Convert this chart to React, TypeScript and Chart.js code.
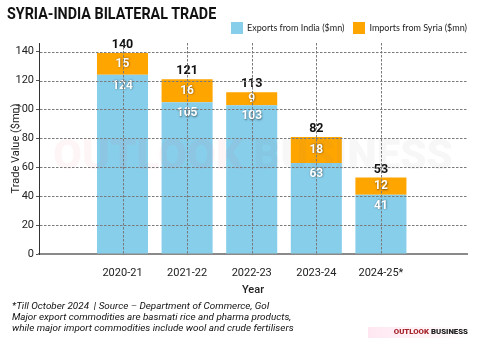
import React, { useEffect, useRef } from "react";
import { Chart, registerables } from "chart.js";

Chart.register(...registerables);

const years = ["2020-21", "2021-22", "2022-23", "2023-24", "2024-25*"];
const exportsIndia = [124, 105, 103, 63, 41];
const importsSyria = [15, 16, 9, 18, 12];
const totalLabels = ["140", "121", "113", "82", "53"];
const yTicks = [0, 20, 40, 60, 80, 100, 120, 140];

const BLUE = "#87CEEB";
const ORANGE = "#FFA500";

const gridPlugin = {
  id: "overGrid",
  afterDraw(chart: any) {
    const ctx = chart.ctx;
    const area = chart.chartArea;
    const xs = chart.scales.x;
    const ys = chart.scales.y;
    ctx.save();
    ctx.globalAlpha = 1;
    ctx.fillStyle = "#7a7a7a";
    for (const v of yTicks) {
      if (v === 0) continue;
      const py = Math.round(ys.getPixelForValue(v));
      for (let x = area.left + 1; x < area.right; x += 4) {
        ctx.fillRect(x, py, 2.5, 1);
      }
    }
    for (let i = 0; i < years.length; i++) {
      const px = Math.round(xs.getPixelForValue(i));
      for (let y = area.top; y < area.bottom - 1; y += 4) {
        ctx.fillRect(px, y, 1, 2.5);
      }
    }
    ctx.restore();
  },
};

const labelsPlugin = {
  id: "valueLabels",
  afterDatasetsDraw(chart: any) {
    const ctx = chart.ctx;
    const m0 = chart.getDatasetMeta(0);
    const m1 = chart.getDatasetMeta(1);
    const area = chart.chartArea;
    ctx.save();
    // faint watermark
    ctx.font = "900 42px Roboto";
    ctx.textBaseline = "middle";
    const cx = (area.left + area.right) / 2;
    const w1 = ctx.measureText("OUTLOOK ").width;
    const w2 = ctx.measureText("BUSINESS").width;
    const sx = cx - (w1 + w2) / 2;
    ctx.textAlign = "left";
    ctx.fillStyle = "rgba(230,90,100,0.06)";
    ctx.fillText("OUTLOOK ", sx, 158);
    ctx.fillStyle = "rgba(120,120,120,0.06)";
    ctx.fillText("BUSINESS", sx + w1, 158);

    ctx.textAlign = "center";
    ctx.textBaseline = "middle";
    for (let i = 0; i < years.length; i++) {
      const b0 = m0.data[i];
      const b1 = m1.data[i];
      ctx.font = "bold 12px Roboto";
      ctx.shadowColor = "rgba(0,0,0,0.55)";
      ctx.shadowBlur = 2;
      ctx.shadowOffsetX = 0.5;
      ctx.shadowOffsetY = 0.5;
      ctx.fillStyle = "#ffffff";
      ctx.fillText(String(exportsIndia[i]), b0.x, b0.y + 11);
      ctx.fillText(String(importsSyria[i]), b1.x, (b1.y + b1.base) / 2);
      ctx.shadowColor = "transparent";
      ctx.shadowBlur = 0;
      ctx.shadowOffsetX = 0;
      ctx.shadowOffsetY = 0;
      ctx.fillStyle = "#111111";
      ctx.font = "bold 12.5px Roboto";
      ctx.fillText(totalLabels[i], b1.x, b1.y - 8);
    }
    ctx.restore();
  },
};

export default function App() {
  const ref = useRef<HTMLCanvasElement>(null);
  useEffect(() => {
    if (!ref.current) return;
    const chart = new Chart(ref.current, {
      type: "bar",
      data: {
        datasets: [
          {
            label: "Exports from India ($mn)",
            data: exportsIndia.map((v, i) => ({ x: i, y: v })),
            backgroundColor: BLUE,
            borderWidth: 0,
            barPercentage: 0.79,
            categoryPercentage: 1,
          },
          {
            label: "Imports from Syria ($mn)",
            data: importsSyria.map((v, i) => ({ x: i, y: v })),
            backgroundColor: ORANGE,
            borderWidth: 0,
            barPercentage: 0.79,
            categoryPercentage: 1,
          },
        ],
      },
      options: {
        responsive: false,
        animation: false,
        layout: { padding: { left: 6, right: 13, top: 43, bottom: 51 } },
        plugins: {
          legend: { display: false },
          tooltip: { enabled: false },
        },
        scales: {
          x: {
            type: "linear",
            stacked: true,
            min: -0.63,
            max: 4.67,
            afterBuildTicks: (s: any) => {
              s.ticks = years.map((_, i) => ({ value: i }));
            },
            afterFit: (s: any) => {
              s.height = 47;
            },
            ticks: {
              callback: (v: any) => years[v] ?? "",
              font: { family: "Roboto", size: 11 },
              color: "#222",
              padding: 5,
              maxRotation: 0,
              autoSkip: false,
            },
            grid: {
              display: false,
            },
            border: { display: true, color: "#8a8a8a", width: 2 },
            title: {
              display: true,
              text: "Year",
              font: { family: "Roboto", size: 11, weight: "500" },
              color: "#222",
              padding: { top: 4, bottom: 4 },
            },
          },
          y: {
            stacked: true,
            min: 0,
            max: 146,
            afterBuildTicks: (s: any) => {
              s.ticks = yTicks.map((v) => ({ value: v }));
            },
            afterFit: (s: any) => {
              s.width = 33;
            },
            ticks: {
              font: { family: "Roboto", size: 11 },
              color: "#222",
              padding: 2,
            },
            grid: {
              drawOnChartArea: false,
              color: "#555",
              tickLength: 3,
            },
            border: { display: true, color: "#333", width: 1 },
            title: {
              display: true,
              text: "Trade Value ($mn)",
              font: { family: "Roboto", size: 11 },
              color: "#222",
              padding: { top: 4, bottom: 4 },
            },
          },
        },
      },
      plugins: [labelsPlugin, gridPlugin],
    } as any);
    return () => chart.destroy();
  }, []);

  const legendItem = (color: string, text: string, ml: number) => (
    <div style={{ display: "flex", alignItems: "center", marginLeft: ml }}>
      <span style={{ display: "inline-block", width: 12, height: 12, background: color, marginRight: 4 }} />
      <span>{text}</span>
    </div>
  );

  return (
    <div style={{ position: "absolute", left: 0, top: 0, width: 480, height: 352, background: "#fff", overflow: "hidden" }}>
      <canvas ref={ref} width={480} height={352} style={{ position: "absolute", left: 0, top: 0 }} />
      <div
        style={{
          position: "absolute",
          left: 7,
          top: 4,
          fontFamily: "Roboto",
          fontWeight: 700,
          fontSize: 16,
          color: "#111",
          whiteSpace: "nowrap",
          transform: "scaleX(0.895)",
          transformOrigin: "left center",
          lineHeight: "20px",
        }}
      >
        SYRIA-INDIA BILATERAL TRADE
      </div>
      <div
        style={{
          position: "absolute",
          right: 13,
          top: 21,
          display: "flex",
          fontFamily: "Lato",
          fontSize: 9,
          color: "#222",
          lineHeight: "14px",
          whiteSpace: "nowrap",
        }}
      >
        {legendItem(BLUE, "Exports from India ($mn)", 0)}
        {legendItem(ORANGE, "Imports from Syria ($mn)", 9)}
      </div>
      <div
        style={{
          position: "absolute",
          left: 12,
          top: 301,
          fontFamily: "Roboto",
          fontStyle: "italic",
          fontSize: 9.9,
          lineHeight: "10.8px",
          color: "#111",
          whiteSpace: "nowrap",
        }}
      >
        <div>*Till October 2024 &nbsp;| Source – Department of Commerce, GoI</div>
        <div>Major export commodities are basmati rice and pharma products,</div>
        <div>while major import commodities include wool and crude fertilisers</div>
      </div>
      <div
        style={{
          position: "absolute",
          left: 368,
          top: 327,
          width: 100,
          height: 11,
          background: "linear-gradient(to right, rgba(255,225,238,0.8), rgba(255,245,248,0.2))",
        }}
      />
      <div
        style={{
          position: "absolute",
          right: 12,
          top: 326,
          fontFamily: "Roboto",
          fontWeight: 900,
          fontSize: 7.8,
          lineHeight: "12px",
          whiteSpace: "nowrap",
        }}
      >
        <span style={{ color: "#a8262d" }}>OUTLOOK </span>
        <span style={{ color: "#222" }}>BUSINESS</span>
      </div>
    </div>
  );
}
